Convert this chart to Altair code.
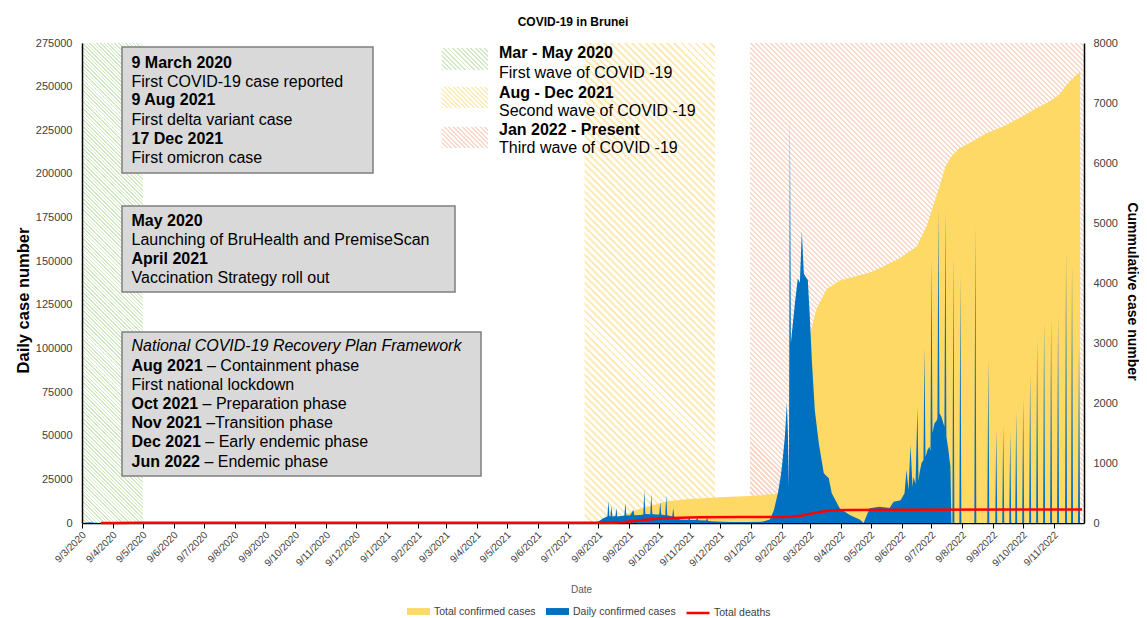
import altair as alt
import pandas as pd

FONT = "Liberation Sans"

# ---------------- data ----------------
total_dates = ["2020-03-09", "2020-03-20", "2020-04-09", "2020-05-09", "2021-05-09", "2021-08-06",
               "2021-08-15", "2021-08-25", "2021-09-06", "2021-09-19", "2021-10-04", "2021-10-19",
               "2021-11-08", "2021-12-08", "2022-01-07", "2022-02-03", "2022-02-12", "2022-02-17",
               "2022-02-27", "2022-03-05", "2022-03-09", "2022-03-16", "2022-03-26", "2022-04-08",
               "2022-04-28", "2022-05-08", "2022-05-18", "2022-06-07", "2022-06-24", "2022-07-04",
               "2022-07-17", "2022-07-23", "2022-07-30", "2022-08-06", "2022-08-19", "2022-09-02",
               "2022-09-19", "2022-10-05", "2022-10-22", "2022-11-04", "2022-11-14", "2022-11-24",
               "2022-12-05"]
total_cases = [1, 68, 135, 141, 228, 338,
               1200, 2800, 5200, 8000, 10500, 12600,
               13700, 14700, 15500, 16600, 17300, 22000,
               50000, 85000, 108000, 123000, 134000, 139000,
               142000, 143500, 146000, 151700, 158300, 169800,
               192700, 204200, 210900, 214700, 218500, 223300,
               227100, 231900, 237600, 241400, 245300, 252700,
               258500]

daily = [
    ("2020-03-09", 1), ("2020-03-17", 11), ("2020-03-22", 6), ("2020-04-05", 2), ("2020-04-20", 0),
    ("2021-08-06", 0), ("2021-08-09", 25), ("2021-08-13", 70), ("2021-08-17", 105),
    ("2021-08-18", 110), ("2021-08-19", 367), ("2021-08-20", 115),
    ("2021-08-21", 110), ("2021-08-22", 283), ("2021-08-23", 110),
    ("2021-08-26", 115), ("2021-08-27", 250), ("2021-08-28", 110),
    ("2021-09-01", 115), ("2021-09-04", 120), ("2021-09-05", 339), ("2021-09-06", 125),
    ("2021-09-10", 130), ("2021-09-13", 220), ("2021-09-14", 130),
    ("2021-09-20", 135), ("2021-09-23", 140), ("2021-09-24", 550), ("2021-09-25", 150),
    ("2021-09-30", 145), ("2021-10-01", 495), ("2021-10-02", 150),
    ("2021-10-05", 140), ("2021-10-09", 140), ("2021-10-10", 355), ("2021-10-11", 140),
    ("2021-10-15", 130), ("2021-10-16", 467), ("2021-10-17", 130),
    ("2021-10-22", 110), ("2021-10-23", 250), ("2021-10-24", 100),
    ("2021-10-30", 60), ("2021-11-07", 55), ("2021-11-08", 95), ("2021-11-09", 50),
    ("2021-11-15", 50), ("2021-11-16", 95), ("2021-11-17", 45),
    ("2021-11-25", 40), ("2021-11-26", 90), ("2021-11-27", 35),
    ("2021-12-05", 25), ("2021-12-20", 15), ("2022-01-05", 15), ("2022-01-20", 20), ("2022-01-28", 60),
    ("2022-02-01", 217), ("2022-02-05", 500), ("2022-02-08", 800), ("2022-02-10", 1100),
    ("2022-02-12", 1440), ("2022-02-14", 2000), ("2022-02-15", 1500), ("2022-02-16", 600),
    ("2022-02-17", 6800), ("2022-02-18", 3000), ("2022-02-20", 3330), ("2022-02-22", 3660),
    ("2022-02-25", 4080), ("2022-02-27", 4000), ("2022-03-01", 4860), ("2022-03-03", 4160),
    ("2022-03-05", 4100), ("2022-03-07", 4050), ("2022-03-09", 3440), ("2022-03-11", 2720),
    ("2022-03-14", 1880), ("2022-03-18", 1330), ("2022-03-23", 830), ("2022-03-28", 745),
    ("2022-03-31", 495), ("2022-04-08", 245), ("2022-04-18", 133), ("2022-04-28", 60),
    ("2022-05-02", 0), ("2022-05-08", 245), ("2022-05-18", 272), ("2022-05-28", 250),
    ("2022-06-01", 355), ("2022-06-08", 380), ("2022-06-12", 495),
    ("2022-06-14", 883), ("2022-06-16", 550), ("2022-06-18", 1300), ("2022-06-20", 600),
    ("2022-06-21", 772), ("2022-06-23", 650), ("2022-06-25", 1940), ("2022-06-26", 700),
    ("2022-06-27", 828), ("2022-06-29", 1000), ("2022-07-01", 1050), ("2022-07-02", 2940),
    ("2022-07-03", 1100), ("2022-07-05", 1217), ("2022-07-07", 1272), ("2022-07-08", 1200),
    ("2022-07-09", 4410), ("2022-07-10", 1500), ("2022-07-12", 1660), ("2022-07-14", 1700),
    ("2022-07-15", 1750), ("2022-07-16", 5270), ("2022-07-17", 1830), ("2022-07-19", 1770),
    ("2022-07-21", 1660), ("2022-07-22", 1600), ("2022-07-23", 5220), ("2022-07-24", 1440),
    ("2022-07-26", 1217), ("2022-07-28", 940), ("2022-07-29", 0), ("2022-07-30", 0),
    ("2022-07-31", 4480), ("2022-08-01", 0),
    ("2022-08-06", 0), ("2022-08-07", 4150), ("2022-08-08", 0),
    ("2022-08-21", 0), ("2022-08-22", 4970), ("2022-08-23", 0),
    ("2022-09-03", 0), ("2022-09-04", 2750), ("2022-09-05", 0),
    ("2022-09-11", 0), ("2022-09-12", 1560), ("2022-09-13", 0),
    ("2022-09-18", 0), ("2022-09-19", 1630), ("2022-09-20", 0),
    ("2022-09-25", 0), ("2022-09-26", 1520), ("2022-09-27", 0),
    ("2022-10-01", 0), ("2022-10-02", 1850), ("2022-10-03", 0),
    ("2022-10-08", 0), ("2022-10-09", 2080), ("2022-10-10", 0),
    ("2022-10-15", 0), ("2022-10-16", 2500), ("2022-10-17", 0),
    ("2022-10-22", 0), ("2022-10-23", 3100), ("2022-10-24", 0),
    ("2022-10-29", 0), ("2022-10-30", 3380), ("2022-10-31", 0),
    ("2022-11-05", 0), ("2022-11-06", 3430), ("2022-11-07", 0),
    ("2022-11-12", 0), ("2022-11-13", 3500), ("2022-11-14", 0),
    ("2022-11-20", 0), ("2022-11-21", 4550), ("2022-11-22", 0),
    ("2022-11-26", 0), ("2022-11-27", 4330), ("2022-11-28", 0),
    ("2022-12-03", 0), ("2022-12-04", 3000), ("2022-12-05", 0),
]

deaths = [
    ("2020-03-28", 1), ("2020-04-09", 2), ("2020-05-05", 3), ("2021-08-14", 3), ("2021-08-24", 6),
    ("2021-09-02", 12), ("2021-09-10", 25), ("2021-09-23", 50), ("2021-10-13", 78), ("2021-10-30", 88),
    ("2021-11-19", 95), ("2021-12-31", 98), ("2022-02-14", 100), ("2022-02-28", 120), ("2022-03-09", 150),
    ("2022-03-19", 185), ("2022-04-01", 212), ("2022-04-18", 218), ("2022-06-10", 222), ("2022-12-07", 225),
]

# waves: start, end, stripe colour, stripe spacing (px)
waves = [("2020-03-09", "2020-05-09", "#d3e9c6", 3.6),
         ("2021-07-26", "2021-12-04", "#ffebb8", 7.0),
         ("2022-01-08", "2022-12-09", "#fad8c8", 5.0)]

tick_months = [(2020, m) for m in range(3, 13)] + [(2021, m) for m in range(1, 13)] + [(2022, m) for m in range(1, 12)]

series_names = ["Total confirmed cases", "Daily confirmed cases", "Total deaths"]
series_colors = ["#FFD966", "#0070C0", "#FF0000"]

# ---------------- layout constants ----------------
PW, PH = 1002, 480
START, END = pd.Timestamp("2020-03-09"), pd.Timestamp("2022-12-09")
TOTAL_DAYS = (END - START).days


def ts(s):
    return s + "T00:00:00"


def stripes(color, w, h, spacing, duty=0.42):
    r = w / h
    a = (r + 1) / (r * r + 1)
    n = max(2, int(round((w + h) / spacing)))
    stops = []
    for i in range(n):
        o0, o1, o2 = i / n, (i + duty) / n, (i + 1) / n
        stops += [alt.GradientStop(offset=round(o0, 5), color=color),
                  alt.GradientStop(offset=round(o1, 5), color=color),
                  alt.GradientStop(offset=round(o1, 5), color="#ffffff"),
                  alt.GradientStop(offset=round(o2, 5), color="#ffffff")]
    return alt.LinearGradient(gradient="linear", stops=stops, x1=0, y1=1,
                              x2=round(a * r, 5), y2=round(1 - a, 5))


x_scale = alt.Scale(domain=[alt.DateTime(year=2020, month=3, date=9),
                            alt.DateTime(year=2022, month=12, date=9)], nice=False)

x_axis = alt.Axis(orient="bottom",
                  values=[alt.DateTime(year=y, month=m, date=9) for y, m in tick_months],
                  format="%-d/%-m/%Y", labelAngle=-45, labelAlign="right", labelBaseline="middle",
                  labelFontSize=10, labelColor="#404040", labelOverlap=False, labelFlush=False,
                  labelPadding=5, labelOffset=2, tickSize=5, tickColor="black", tickWidth=1,
                  domainColor="black", domainWidth=1.5, grid=False,
                  title="Date", titleX=499, titleY=66, titleFontSize=10, titleFontWeight="normal",
                  titleColor="#595959", titleBaseline="middle", titleAlign="center")

left_axis = alt.Axis(orient="left", values=list(range(0, 275001, 25000)), format="d",
                     ticks=False, tickSize=0, grid=False, domainColor="black", domainWidth=1.5,
                     labelFontSize=11, labelColor="#404040", labelPadding=10, zindex=1,
                     title="Daily case number", titleFontSize=16.5, titleFontWeight="bold",
                     titleColor="black", titleAngle=270, titleX=-59, titleY=257,
                     titleAlign="center", titleBaseline="middle")

right_axis = alt.Axis(orient="right", values=list(range(0, 8001, 1000)), format="d",
                      ticks=False, tickSize=0, grid=False, domainColor="black", domainWidth=1.5,
                      labelFontSize=11, labelColor="#404040", labelPadding=9, zindex=1,
                      title="Cummulative case number", titleFontSize=14, titleFontWeight="bold",
                      titleColor="black", titleAngle=90, titleX=47, titleY=248,
                      titleAlign="center", titleBaseline="middle")

fill_scale = alt.Scale(domain=series_names[:2], range=series_colors[:2])
fill_legend = alt.Legend(title=None, orient="none", legendX=325, legendY=557, direction="horizontal",
                         symbolType="M-1,-0.3H1V0.3H-1Z", symbolSize=529, symbolStrokeWidth=0,
                         symbolOpacity=1, labelFontSize=10.5, labelFont=FONT, labelColor="#404040",
                         labelOffset=4, columnPadding=10, padding=0, labelLimit=300)
stroke_scale = alt.Scale(domain=series_names[2:], range=series_colors[2:])
stroke_legend = alt.Legend(title=None, orient="none", legendX=603, legendY=557, direction="horizontal",
                           symbolType="stroke", symbolSize=529, symbolStrokeWidth=2.5,
                           symbolStrokeColor="#FF0000", symbolOpacity=1,
                           labelFontSize=10.5, labelFont=FONT, labelColor="#404040",
                           labelOffset=3, padding=0, labelLimit=300)

# ---------------- data frames ----------------
total_df = pd.DataFrame({"date": [ts(d) for d in total_dates], "cases": total_cases})
total_df["series"] = series_names[0]
daily_df = pd.DataFrame({"date": [ts(d) for d, _ in daily], "cases": [v for _, v in daily]})
daily_df["series"] = series_names[1]
death_df = pd.DataFrame({"date": [ts(d) for d, _ in deaths], "deaths": [v for _, v in deaths]})
death_df["series"] = series_names[2]
dummy = pd.DataFrame({"k": [0]})

# ---------------- layers ----------------
hatch_layers = []
for s, e, col, sp in waves:
    w = (pd.Timestamp(e) - pd.Timestamp(s)).days * PW / TOTAL_DAYS
    hdf = pd.DataFrame({"start": [ts(s)], "end": [ts(e)]})
    hatch_layers.append(
        alt.Chart(hdf).mark_rect(fill=stripes(col, w, PH, sp)).encode(
            x=alt.X("start:T", scale=x_scale, axis=x_axis), x2="end:T",
            y=alt.value(0), y2=alt.value(PH)))

total_area = alt.Chart(total_df).mark_area(interpolate="linear", opacity=1).encode(
    x=alt.X("date:T", scale=x_scale, axis=x_axis),
    y=alt.Y("cases:Q", scale=alt.Scale(domain=[0, 275000], nice=False), axis=left_axis),
    fill=alt.Fill("series:N", scale=fill_scale, legend=fill_legend))

daily_area = alt.Chart(daily_df).mark_area(interpolate="linear", opacity=1).encode(
    x=alt.X("date:T", scale=x_scale, axis=x_axis),
    y=alt.Y("cases:Q", scale=alt.Scale(domain=[0, 8000], nice=False), axis=right_axis),
    fill=alt.Fill("series:N", scale=fill_scale, legend=fill_legend))

death_line = alt.Chart(death_df).mark_line(interpolate="linear", strokeWidth=2.5).encode(
    x=alt.X("date:T", scale=x_scale, axis=x_axis),
    y=alt.Y("deaths:Q", scale=alt.Scale(domain=[0, 8000], nice=False), axis=right_axis),
    stroke=alt.Stroke("series:N", scale=stroke_scale, legend=stroke_legend))

left = alt.layer(*hatch_layers, total_area)
right = alt.layer(daily_area, death_line)

# ---------------- annotations (pixel positions relative to plot area) ----------------
boxes = [(40, 4, 291, 130), (40, 163, 373, 249), (40, 289, 399, 433)]
texts = [
    (49.5, 19.7, "9 March 2020", "bold", "normal"),
    (49.5, 38.7, "First COVID-19 case reported", "normal", "normal"),
    (49.5, 57.3, "9 Aug 2021", "bold", "normal"),
    (49.5, 76.7, "First delta variant case", "normal", "normal"),
    (49.5, 95.7, "17 Dec 2021", "bold", "normal"),
    (49.5, 114.7, "First omicron case", "normal", "normal"),
    (49.5, 177.7, "May 2020", "bold", "normal"),
    (49.5, 197.0, "Launching of BruHealth and PremiseScan", "normal", "normal"),
    (49.5, 216.0, "April 2021", "bold", "normal"),
    (49.5, 235.3, "Vaccination Strategy roll out", "normal", "normal"),
    (49.5, 303.0, "National COVID-19 Recovery Plan Framework", "normal", "italic"),
    (49.5, 322.7, "Aug 2021", "bold", "normal"),
    (125.0, 322.7, "– Containment phase", "normal", "normal"),
    (49.5, 342.0, "First national lockdown", "normal", "normal"),
    (49.5, 361.0, "Oct 2021", "bold", "normal"),
    (120.6, 361.0, "– Preparation phase", "normal", "normal"),
    (49.5, 380.3, "Nov 2021", "bold", "normal"),
    (124.2, 380.3, "–Transition phase", "normal", "normal"),
    (49.5, 399.3, "Dec 2021", "bold", "normal"),
    (123.3, 399.3, "– Early endemic phase", "normal", "normal"),
    (49.5, 418.7, "Jun 2022", "bold", "normal"),
    (122.4, 418.7, "– Endemic phase", "normal", "normal"),
    (417, 10.0, "Mar - May 2020", "bold", "normal"),
    (417, 29.7, "First wave of COVID -19", "normal", "normal"),
    (417, 50.3, "Aug - Dec 2021", "bold", "normal"),
    (417, 68.0, "Second wave of COVID -19", "normal", "normal"),
    (417, 87.0, "Jan 2022 - Present", "bold", "normal"),
    (417, 105.3, "Third wave of COVID -19", "normal", "normal"),
]
swatches = [(359.7, 5.0, 406.0, 27.0, waves[0][2]),
            (359.7, 43.7, 406.0, 65.0, waves[1][2]),
            (359.7, 83.7, 406.0, 105.0, waves[2][2])]

ann = []
for x, y, x2, y2 in boxes:
    ann.append(alt.Chart(dummy).mark_rect(fill="#d9d9d9", stroke="#7f7f7f", strokeWidth=1.5).encode(
        x=alt.value(x), x2=alt.value(x2), y=alt.value(y), y2=alt.value(y2)))
for x, y, x2, y2, col in swatches:
    ann.append(alt.Chart(dummy).mark_rect(fill=stripes(col, x2 - x, y2 - y, 4.6)).encode(
        x=alt.value(x), x2=alt.value(x2), y=alt.value(y), y2=alt.value(y2)))
for x, y, t, wgt, sty in texts:
    ann.append(alt.Chart(dummy).mark_text(text=t, align="left", baseline="middle", fontSize=16,
                                          font=FONT, fontWeight=wgt, fontStyle=sty, color="black").encode(
        x=alt.value(x), y=alt.value(y)))
ann.append(alt.Chart(dummy).mark_text(text="COVID-19 in Brunei", align="center", baseline="middle",
                                      fontSize=12, font=FONT, fontWeight="bold", color="black").encode(
    x=alt.value(491), y=alt.value(-21)))

chart = alt.layer(left, right, *ann).resolve_scale(y="independent").properties(
    width=PW, height=PH,
    padding={"left": 74, "top": 35, "right": 55, "bottom": 95},
    autosize=alt.AutoSizeParams(type="none"),
).configure(font=FONT).configure_view(stroke="transparent", strokeWidth=0).configure_axis(
    labelFont=FONT, titleFont=FONT)

chart.save("out.html", embed_options={"renderer": "svg", "actions": False})
